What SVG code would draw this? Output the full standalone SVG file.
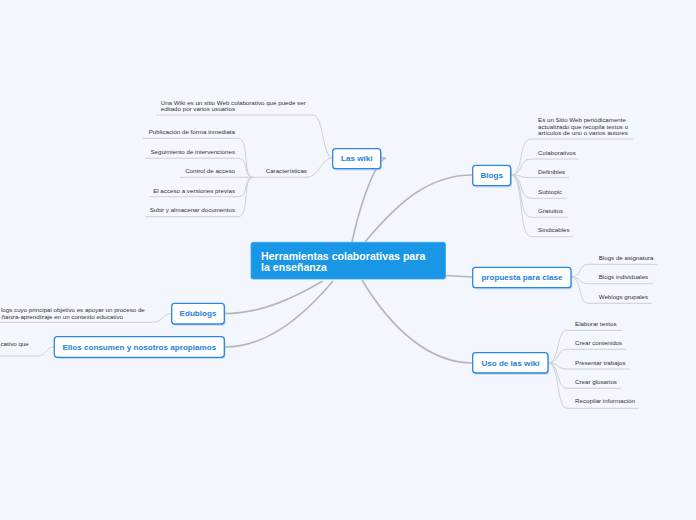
<svg xmlns="http://www.w3.org/2000/svg" width="696" height="520" viewBox="0 0 696 520">
<defs>
<style>
.bg{fill:#f3f6fd}
.main{fill:none;stroke:#b5b5ba;stroke-width:1.6}
.sub{fill:none;stroke:#cfd0d6;stroke-width:1}
.node{fill:#ffffff;stroke:#2a86e0;stroke-width:1.3}
.shadow{fill:#a9c8ee;opacity:0.6}
.ntext{font-family:"Liberation Sans",Arial,sans-serif;font-weight:bold;font-size:8.1px;fill:#1f7fdc;text-anchor:middle}
.ctext{font-family:"Liberation Sans",Arial,sans-serif;font-weight:bold;font-size:10.6px;fill:#ffffff}
.t{font-family:"Liberation Sans",Arial,sans-serif;font-size:6.2px;fill:#333333}
.te{font-family:"Liberation Sans",Arial,sans-serif;font-size:6.2px;fill:#333333;text-anchor:end}
</style>
</defs>
<rect class="bg" x="0" y="0" width="696" height="520"/>

<g id="connectors">
<path class="main" d="M352,242 C360,205 372,172 381,162 Q384,158 386,158 L381,158"/>
<path class="main" d="M365,242 C400,200 430,175 473,175"/>
<path class="main" d="M445,275.5 L473,277"/>
<path class="main" d="M362,280 C392,330 430,363 473,363"/>
<path class="main" d="M323,281 C290,300 260,313.5 224,313.5"/>
<path class="main" d="M333,281 C300,320 265,347 224,347"/>

<path class="sub" d="M156,115 L313,115 C324,115 322,158 333,158"/>
<path class="sub" d="M253,177.3 L306,177.3 C320,177.3 320,158 333,158"/>
<path class="sub" d="M143,138.3 L238,138.3 C250,138.3 242,177.3 253,177.3"/>
<path class="sub" d="M145,158.3 L238,158.3 C250,158.3 242,177.3 253,177.3"/>
<path class="sub" d="M180,177.3 L253,177.3"/>
<path class="sub" d="M149,196.7 L238,196.7 C250,196.7 242,177.3 253,177.3"/>
<path class="sub" d="M145,216.7 L238,216.7 C250,216.7 242,177.3 253,177.3"/>

<path class="sub" d="M511,175 C524,175 518,139 531,139 L633,139"/>
<path class="sub" d="M511,175 C524,175 518,159 531,159 L579,159"/>
<path class="sub" d="M511,175 C524,175 518,177.7 531,177.7 L569,177.7"/>
<path class="sub" d="M511,175 C524,175 518,198.3 531,198.3 L567,198.3"/>
<path class="sub" d="M511,175 C524,175 518,217.3 531,217.3 L568,217.3"/>
<path class="sub" d="M511,175 C524,175 518,236.7 531,236.7 L573,236.7"/>

<path class="sub" d="M571,277 C582,277 578,264.3 588,264.3 L657,264.3"/>
<path class="sub" d="M571,277 C582,277 578,283.7 588,283.7 L653,283.7"/>
<path class="sub" d="M571,277 C582,277 578,303.3 588,303.3 L652,303.3"/>

<path class="sub" d="M548,363 C560,363 556,330.3 567,330.3 L622,330.3"/>
<path class="sub" d="M548,363 C560,363 556,349.3 567,349.3 L626,349.3"/>
<path class="sub" d="M548,363 C560,363 556,369 567,369 L630,369"/>
<path class="sub" d="M548,363 C560,363 556,388.3 567,388.3 L621,388.3"/>
<path class="sub" d="M548,363 C560,363 556,408.3 567,408.3 L639,408.3"/>

<path class="sub" d="M-5,322.3 L153,322.3 C163,322.3 162,313.5 172,313.5"/>
<path class="sub" d="M-5,356 L37,356 C47,356 45,347 54.3,347"/>
</g>

<g id="central">
<rect x="251" y="242.3" width="194.5" height="36.7" rx="2" fill="#1a96e6" stroke="#3aa6ee" stroke-width="0.8"/>
<text class="ctext" x="261" y="259.5">Herramientas colaborativas para</text>
<text class="ctext" x="261" y="270.5">la enseñanza</text>
</g>

<g id="las-wiki">
<rect class="shadow" x="334" y="150.5" width="48" height="20" rx="3"/>
<rect class="node" x="332.7" y="148.7" width="48" height="20" rx="3"/>
<text class="ntext" x="356.8" y="161.2">Las wiki</text>
</g>
<g id="las-wiki-desc">
<text class="t" x="160.7" y="104.5">Una Wiki es un sitio Web colaborativo que puede ser</text>
<text class="t" x="160.7" y="111">editado por varios usuarios</text>
</g>
<g id="caracteristicas">
<text class="t" x="265.7" y="173">Características</text>
</g>
<g id="car-1"><text class="te" x="235" y="134">Publicación de forma inmediata</text></g>
<g id="car-2"><text class="te" x="235" y="154">Seguimiento de intervenciones</text></g>
<g id="car-3"><text class="te" x="235" y="173">Control de acceso</text></g>
<g id="car-4"><text class="te" x="235" y="192.5">El acceso a versiones previas</text></g>
<g id="car-5"><text class="te" x="235" y="212">Subir y almacenar documentos</text></g>

<g id="blogs">
<rect class="shadow" x="474" y="167" width="38" height="20.4" rx="3"/>
<rect class="node" x="472.7" y="165.3" width="38" height="20.4" rx="3"/>
<text class="ntext" x="491.7" y="178.2">Blogs</text>
</g>
<g id="blogs-1">
<text class="t" x="538" y="122">Es un Sitio Web periódicamente</text>
<text class="t" x="538" y="128.6">actualizado que recopila textos o</text>
<text class="t" x="538" y="135.2">artículos de uno o  varios autores</text>
</g>
<g id="blogs-2"><text class="t" x="538" y="154.5">Colaborativos</text></g>
<g id="blogs-3"><text class="t" x="538" y="173.5">Definibles</text></g>
<g id="blogs-4"><text class="t" x="538" y="193.5">Subtopic</text></g>
<g id="blogs-5"><text class="t" x="538" y="212.7">Gratuitos</text></g>
<g id="blogs-6"><text class="t" x="538" y="232.3">Sindicables</text></g>

<g id="propuesta">
<rect class="shadow" x="474" y="269" width="98.3" height="20.4" rx="3"/>
<rect class="node" x="472.7" y="267.3" width="98.3" height="20.4" rx="3"/>
<text class="ntext" x="521.9" y="280.3">propuesta para clase</text>
</g>
<g id="prop-1"><text class="t" x="598.7" y="260">Blogs de asignatura</text></g>
<g id="prop-2"><text class="t" x="598.7" y="279.2">Blogs individuales</text></g>
<g id="prop-3"><text class="t" x="598.7" y="298.8">Weblogs grupales</text></g>

<g id="uso">
<rect class="shadow" x="474" y="354.4" width="75.3" height="20.3" rx="3"/>
<rect class="node" x="472.7" y="352.7" width="75.3" height="20.3" rx="3"/>
<text class="ntext" x="510.4" y="365.6">Uso de las wiki</text>
</g>
<g id="uso-1"><text class="t" x="575" y="325.5">Elaborar textos</text></g>
<g id="uso-2"><text class="t" x="575" y="344.8">Crear contenidos</text></g>
<g id="uso-3"><text class="t" x="575" y="364.5">Presentar trabajos</text></g>
<g id="uso-4"><text class="t" x="575" y="383.6">Crear glosarios</text></g>
<g id="uso-5"><text class="t" x="575" y="403.2">Recopilar información</text></g>

<g id="edublogs">
<rect class="shadow" x="173" y="305" width="52.6" height="20.7" rx="3"/>
<rect class="node" x="171.7" y="303.3" width="52.6" height="20.7" rx="3"/>
<text class="ntext" x="198" y="316.3">Edublogs</text>
</g>
<g id="edublogs-desc">
<text class="t" x="1" y="311.5">logs cuyo principal objetivo es apoyar un proceso de</text>
<text class="t" x="1.5" y="318.6">ñanza-aprendizaje en un contexto educativo</text>
</g>

<g id="ellos">
<rect class="shadow" x="55.6" y="338.4" width="170" height="20.6" rx="3"/>
<rect class="node" x="54.3" y="336.7" width="170" height="20.6" rx="3"/>
<text class="ntext" x="139.3" y="349.8">Ellos consumen y nosotros apropiamos</text>
</g>
<g id="ellos-desc">
<text class="t" x="0.5" y="345.5">cativo que</text>
</g>
</svg>
